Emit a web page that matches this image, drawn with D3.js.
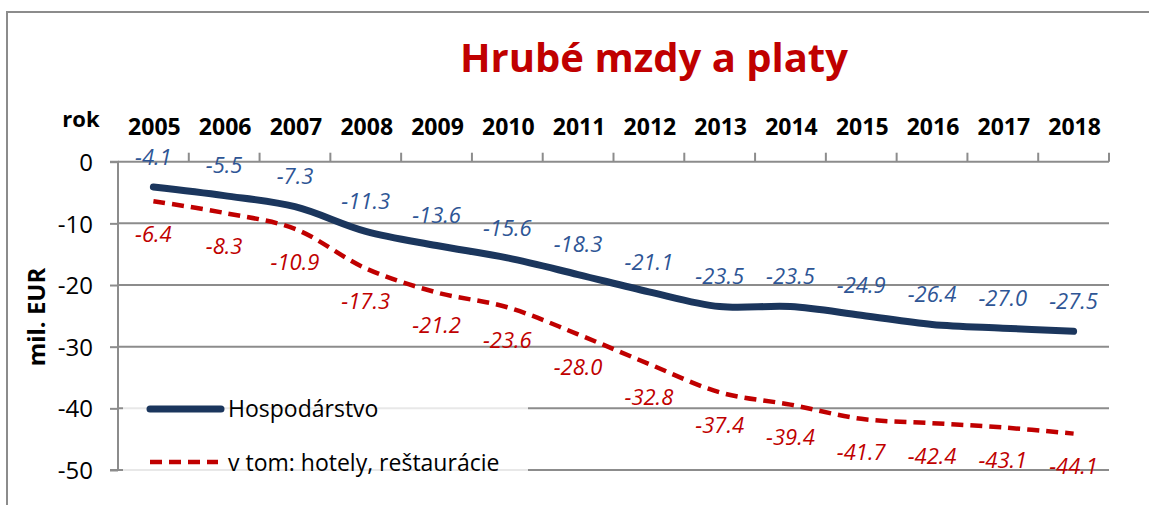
<!DOCTYPE html>
<html><head><meta charset="utf-8">
<script src="https://cdn.jsdelivr.net/npm/d3@7"></script>
<style>
html,body{margin:0;padding:0;background:#fff;}
svg{display:block;font-family:"Open Sans",Lato,sans-serif;}
</style></head>
<body>
<svg id="c" width="1149" height="505"></svg>
<script>
const years = ["2005","2006","2007","2008","2009","2010","2011","2012","2013","2014","2015","2016","2017","2018"];
const hospodarstvo = [-4.1,-5.5,-7.3,-11.3,-13.6,-15.6,-18.3,-21.1,-23.5,-23.5,-24.9,-26.4,-27.0,-27.5];
const hotely = [-6.4,-8.3,-10.9,-17.3,-21.2,-23.6,-28.0,-32.8,-37.4,-39.4,-41.7,-42.4,-43.1,-44.1];
const yTicks = [0,-10,-20,-30,-40,-50];
const seriesNames = ["Hospodárstvo","v tom: hotely, reštaurácie"];
const titleText = "Hrubé mzdy a platy";

const svg = d3.select("#c");
const L = 118, R = 1109, T = 161.7, B = 470;

// frame
svg.append("path").attr("d",`M7,510 L7,12 L1160,12`).attr("fill","none").attr("stroke","#8c8c8c").attr("stroke-width",2);

// title
svg.append("text").attr("x",654).attr("y",72).attr("text-anchor","middle")
  .attr("font-size",40).attr("font-weight","bold").attr("fill","#c00000").text(titleText);

const x = d3.scaleBand().domain(years).range([L,R]);
const y = d3.scaleLinear().domain([-50,0]).range([B,T]);

// gridlines
const grid = svg.append("g");
grid.selectAll("line").data(yTicks.filter(d=>d!==0)).join("line")
  .attr("x1",L).attr("x2",R).attr("y1",d=>y(d)).attr("y2",d=>y(d))
  .attr("stroke","#8c8c8c").attr("stroke-width",2);

// legend backdrop (semi transparent)
svg.append("rect").attr("x",123).attr("y",382).attr("width",405).attr("height",96)
  .attr("fill","#fff").attr("opacity",0.8);

// y axis
const yAxis = svg.append("g").attr("transform",`translate(${L},0)`)
  .call(d3.axisLeft(y).tickValues(yTicks).tickSize(8).tickPadding(17).tickFormat(d3.format("d")));
yAxis.select(".domain").attr("stroke","#8c8c8c").attr("stroke-width",2).attr("d",`M-8,${T}H0V${B}H-8`);
yAxis.selectAll(".tick line").attr("stroke","#8c8c8c").attr("stroke-width",2);
yAxis.selectAll(".tick text").attr("font-size",24).attr("fill","#000").attr("font-family","Open Sans").attr("dy","0.36em")
  .text(d=>d===0?"0":"-"+Math.abs(d));

// x axis at top (value 0)
const xAxisG = svg.append("g").attr("transform",`translate(0,${T})`);
xAxisG.append("line").attr("x1",L).attr("x2",R).attr("stroke","#8c8c8c").attr("stroke-width",2);
const bounds = years.map(d=>x(d)).concat([R]);
xAxisG.selectAll("line.tk").data(bounds.slice(1)).join("line").attr("class","tk")
  .attr("x1",d=>d).attr("x2",d=>d).attr("y1",-9).attr("y2",0).attr("stroke","#8c8c8c").attr("stroke-width",2);
svg.append("g").selectAll("text").data(years).join("text")
  .attr("x",d=>x(d)+x.bandwidth()/2+1).attr("y",135).attr("text-anchor","middle")
  .attr("font-size",23).attr("font-weight","bold").attr("fill","#000").text(d=>d);
svg.append("text").attr("x",81).attr("y",127).attr("text-anchor","middle")
  .attr("font-size",22).attr("font-weight","bold").text("rok");

// y title
svg.append("text").attr("transform","translate(45,317) rotate(-90)").attr("text-anchor","middle")
  .attr("font-size",24).attr("font-weight","bold").text("mil. EUR");

const cx = d => x(d)+x.bandwidth()/2;
const line = d3.line().x(d=>cx(d[0])).y(d=>y(d[1])).curve(d3.curveCatmullRom.alpha(0.5));

svg.append("path").datum(years.map((d,i)=>[d,hotely[i]])).attr("d",line)
  .attr("fill","none").attr("stroke","#c00000").attr("stroke-width",4.5).attr("stroke-dasharray","12,7");
svg.append("path").datum(years.map((d,i)=>[d,hospodarstvo[i]])).attr("d",line)
  .attr("fill","none").attr("stroke","#1b365d").attr("stroke-width",7).attr("stroke-linecap","round");

// data labels
svg.append("g").selectAll("text").data(hospodarstvo).join("text")
  .attr("x",(d,i)=>cx(years[i])).attr("y",d=>y(d)-30).attr("dy","0.35em").attr("text-anchor","middle")
  .attr("font-size",22).attr("font-style","italic").attr("fill","#2e5595").text(d=>d.toFixed(1));
svg.append("g").selectAll("text").data(hotely).join("text")
  .attr("x",(d,i)=>cx(years[i])).attr("y",d=>y(d)+33).attr("dy","0.35em").attr("text-anchor","middle")
  .attr("font-size",22).attr("font-style","italic").attr("fill","#c00000").text(d=>d.toFixed(1));

// legend
const lg = svg.append("g");
lg.append("line").attr("x1",150).attr("x2",221).attr("y1",409).attr("y2",409)
  .attr("stroke","#1b365d").attr("stroke-width",7).attr("stroke-linecap","round");
lg.append("line").attr("x1",150).attr("x2",218).attr("y1",462).attr("y2",462)
  .attr("stroke","#c00000").attr("stroke-width",4.5).attr("stroke-dasharray","12,7");
lg.append("text").attr("x",228).attr("y",417).attr("font-size",23).text(seriesNames[0]);
lg.append("text").attr("x",228).attr("y",471).attr("font-size",23).text(seriesNames[1]);
</script>
</body></html>
